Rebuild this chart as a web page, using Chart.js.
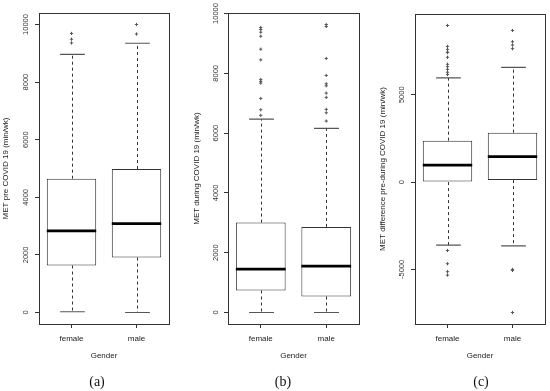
<!DOCTYPE html>
<html><head><meta charset="utf-8">
<script src="https://cdn.jsdelivr.net/npm/chart.js@4.4.1/dist/chart.umd.min.js"></script>
<style>
body{margin:0;width:550px;height:391px;background:#fff;position:relative;overflow:hidden}
.p{position:absolute;top:0;height:391px}
.cap{position:absolute;top:374px;transform:translateX(-50%);font:14px 'Liberation Serif','DejaVu Serif',serif;color:#111;line-height:16px}
</style></head><body>
<div class="p" style="left:0;width:185px"><canvas id="ca" width="185" height="391"></canvas></div>
<div class="p" style="left:185px;width:185px"><canvas id="cb" width="185" height="391"></canvas></div>
<div class="p" style="left:370px;width:180px"><canvas id="cc" width="180" height="391"></canvas></div>
<div class="cap" style="left:97px">(a)</div>
<div class="cap" style="left:283px">(b)</div>
<div class="cap" style="left:481px">(c)</div>
<script>
const categories = ['female', 'male'];

// (a) MET pre COVID 19
const preLow = [25, 0];
const preQ1 = [1630, 1907];
const preMedian = [2833, 3086];
const preQ3 = [4646, 4983];
const preHigh = [8960, 9350];
const preOutFemale = [9690, 9490, 9360];
const preOutMale = [10000, 9670];
const preTicks = [0, 2000, 4000, 6000, 8000, 10000];
const preRange = [-400, 10400];

// (b) MET during COVID 19
const durLow = [0, 0];
const durQ1 = [735, 534];
const durMedian = [1450, 1550];
const durQ3 = [3006, 2862];
const durHigh = [6470, 6160];
const durOutFemale = [9530, 9465, 9375, 9240, 8807, 8450, 7795, 7730, 7672, 7160, 6780, 6593];
const durOutMale = [9632, 9565, 8497, 7929, 7650, 7582, 7338, 7194, 6794, 6680, 6403];
const durTicks = [0, 2000, 4000, 6000, 8000, 10000];
const durRange = [-385, 10017];

// (c) MET difference pre-during COVID 19
const diffLow = [-3615, -3649];
const diffQ1 = [0, 114];
const diffMedian = [969, 1460];
const diffQ3 = [2372, 2828];
const diffHigh = [5964, 6573];
const diffOutFemale = [8968, 7771, 7600, 7446, 7412, 7144, 6745, 6614, 6459, 6288, 6157, -3917, -4675, -5131, -5325];
const diffOutMale = [8683, 8039, 7845, 7640, -5000, -5057, -7469];
const diffTicks = [-5000, 0, 5000];
const diffRange = [-8126, 9625];

const FONT = "'Liberation Sans', Arial, sans-serif";
const INK = '#333';

const boxPlugin = {
  id: 'boxextras',
  afterDatasetsDraw(chart, args, p) {
    const ctx = chart.ctx, y = chart.scales.y, meta = chart.getDatasetMeta(0);
    ctx.save();
    meta.data.forEach((bar, i) => {
      const cx = Math.round(bar.x) + 0.5, half = bar.width / 2, cap = bar.width / 4;
      const yQ1 = y.getPixelForValue(p.q1[i]), yQ3 = y.getPixelForValue(p.q3[i]);
      const yLo = y.getPixelForValue(p.low[i]), yHi = y.getPixelForValue(p.high[i]);
      ctx.strokeStyle = INK; ctx.lineWidth = 1; ctx.setLineDash([3, 3]);
      ctx.beginPath();
      ctx.moveTo(cx, yQ3); ctx.lineTo(cx, yHi);
      ctx.moveTo(cx, yQ1); ctx.lineTo(cx, yLo);
      ctx.stroke();
      ctx.setLineDash([]);
      ctx.strokeStyle = '#555'; ctx.lineWidth = 1.2;
      ctx.beginPath();
      ctx.moveTo(cx - cap, yHi); ctx.lineTo(cx + cap, yHi);
      ctx.moveTo(cx - cap, yLo); ctx.lineTo(cx + cap, yLo);
      ctx.stroke();
      const yM = y.getPixelForValue(p.median[i]);
      ctx.strokeStyle = '#000'; ctx.lineWidth = 2.6;
      ctx.beginPath();
      ctx.moveTo(bar.x - half, yM); ctx.lineTo(bar.x + half, yM);
      ctx.stroke();
    });
    ctx.restore();
  },
  afterDraw(chart, args, p) {
    const ctx = chart.ctx, a = chart.chartArea, y = chart.scales.y;
    ctx.save();
    ctx.strokeStyle = INK; ctx.lineWidth = 1;
    ctx.strokeRect(Math.round(a.left) + 0.5, Math.round(a.top) + 0.5, Math.round(a.right - a.left), Math.round(a.bottom - a.top));
    ctx.fillStyle = INK;
    ctx.font = '7.5px ' + FONT;
    ctx.textAlign = 'center'; ctx.textBaseline = 'middle';
    y.ticks.forEach(t => {
      const py = y.getPixelForValue(t.value);
      ctx.save();
      ctx.translate(a.left - p.tickOffset, py);
      ctx.rotate(-Math.PI / 2);
      ctx.fillText(String(t.value), 0, 0);
      ctx.restore();
    });
    ctx.restore();
  }
};

function makePanel(id, p) {
  const outliers = [];
  p.outF.forEach(v => outliers.push({x: categories[0], y: v}));
  p.outM.forEach(v => outliers.push({x: categories[1], y: v}));
  new Chart(document.getElementById(id), {
    type: 'bar',
    data: {
      labels: categories,
      datasets: [
        {type: 'bar', data: categories.map((c, i) => [p.q1[i], p.q3[i]]),
         backgroundColor: '#fff', borderColor: INK, borderWidth: 1, borderSkipped: false,
         barPercentage: 0.76, categoryPercentage: 1, order: 2},
        {type: 'line', data: outliers, showLine: false, pointStyle: 'cross', pointRadius: 1.6,
         pointBorderColor: '#555', pointBorderWidth: 1, borderColor: '#555', order: 1}
      ]
    },
    options: {
      responsive: false, animation: false, events: [],
      layout: {padding: {top: p.padTop, right: p.padRight, bottom: 30, left: 0}},
      plugins: {legend: {display: false}, tooltip: {enabled: false}, boxextras: p},
      scales: {
        x: {
          grid: {display: true, drawOnChartArea: false, offset: false, tickLength: 4, color: INK},
          border: {display: true, color: INK},
          ticks: {color: '#222', font: {family: FONT, size: 8}, padding: 6},
          title: {display: true, text: 'Gender', color: '#222', font: {family: FONT, size: 8}, padding: 0},
          afterFit: s => { s.height = 37; }
        },
        y: {
          min: p.range[0], max: p.range[1],
          afterBuildTicks: s => { s.ticks = p.ticks.map(v => ({value: v})); },
          grid: {drawOnChartArea: false, tickLength: 4, color: INK},
          border: {display: true, color: INK},
          ticks: {display: false},
          title: {display: true, text: p.title, color: '#222', font: {family: FONT, size: 8}, padding: {top: p.titlePad, bottom: 0}},
          afterFit: s => { s.width = p.left; }
        }
      }
    },
    plugins: [boxPlugin]
  });
}

makePanel('ca', {low: preLow, q1: preQ1, median: preMedian, q3: preQ3, high: preHigh,
  outF: preOutFemale, outM: preOutMale, ticks: preTicks, range: preRange,
  title: 'MET pre COVID 19 (min/wk)', left: 39, padTop: 13, padRight: 16, titlePad: 1.2, tickOffset: 13.5});
makePanel('cb', {low: durLow, q1: durQ1, median: durMedian, q3: durQ3, high: durHigh,
  outF: durOutFemale, outM: durOutMale, ticks: durTicks, range: durRange,
  title: 'MET during COVID 19 (min/wk)', left: 43, padTop: 13, padRight: 11, titlePad: 6.7, tickOffset: 12.5});
makePanel('cc', {low: diffLow, q1: diffQ1, median: diffMedian, q3: diffQ3, high: diffHigh,
  outF: diffOutFemale, outM: diffOutMale, ticks: diffTicks, range: diffRange,
  title: 'MET difference pre-during COVID 19 (min/wk)', left: 45, padTop: 14, padRight: 5, titlePad: 8, tickOffset: 13.5});
</script>
</body></html>
